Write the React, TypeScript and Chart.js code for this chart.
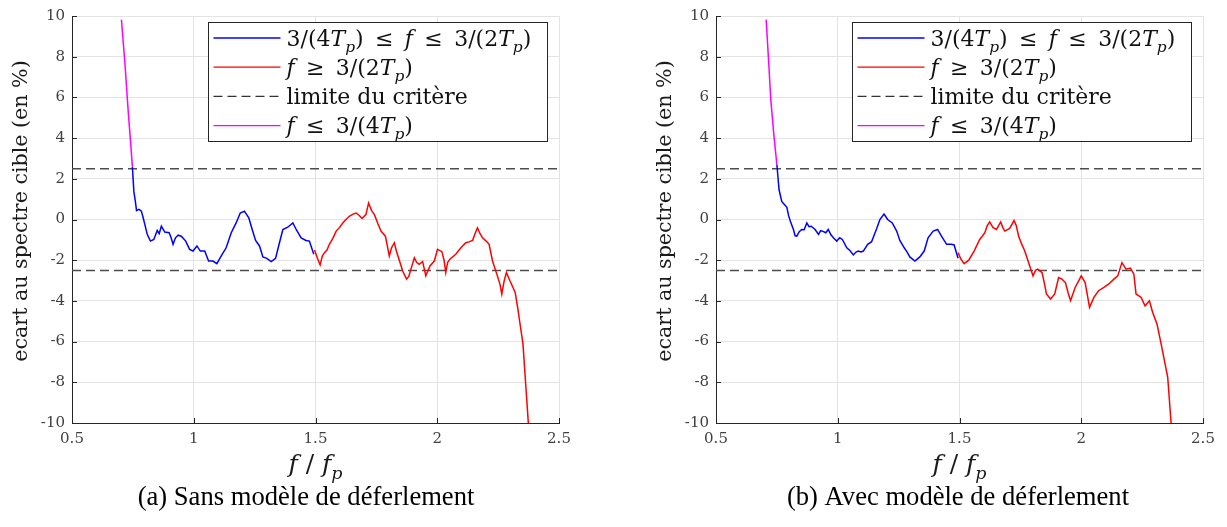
import React, { useEffect, useRef } from 'react';
import { Chart, registerables } from 'chart.js';
Chart.register(...registerables);

// ---------- data (f/fp, ecart %) ----------
const sansMagentaF = [0.703, 0.717, 0.731, 0.740, 0.748];
const sansMagentaE = [9.82, 7.73, 5.29, 3.9, 2.6];
const sansBlueF = [0.748, 0.754, 0.760, 0.765, 0.775, 0.785, 0.792, 0.799, 0.809, 0.822, 0.836, 0.850, 0.858, 0.867, 0.881, 0.899, 0.907, 0.915, 0.925, 0.936, 0.949, 0.967, 0.983, 0.997, 1.013, 1.027, 1.045, 1.061, 1.079, 1.095, 1.113, 1.133, 1.154, 1.174, 1.191, 1.208, 1.226, 1.240, 1.254, 1.270, 1.284, 1.300, 1.318, 1.336, 1.352, 1.366, 1.386, 1.407, 1.423, 1.441, 1.461, 1.475, 1.493];
const sansBlueE = [2.6, 1.38, 0.9, 0.44, 0.5, 0.41, 0.1, -0.24, -0.73, -1.06, -0.98, -0.54, -0.7, -0.33, -0.62, -0.65, -0.9, -1.22, -0.9, -0.77, -0.82, -1.06, -1.47, -1.55, -1.30, -1.55, -1.55, -2.04, -2.04, -2.17, -1.79, -1.39, -0.65, -0.17, 0.32, 0.41, 0.08, -0.49, -1.03, -1.30, -1.84, -1.91, -2.07, -1.91, -1.14, -0.49, -0.38, -0.17, -0.54, -0.90, -1.03, -1.06, -1.71];
const sansRedF = [1.496, 1.508, 1.519, 1.528, 1.537, 1.547, 1.557, 1.570, 1.585, 1.598, 1.612, 1.625, 1.639, 1.652, 1.667, 1.680, 1.691, 1.707, 1.718, 1.730, 1.742, 1.756, 1.769, 1.787, 1.795, 1.803, 1.812, 1.824, 1.832, 1.841, 1.858, 1.874, 1.883, 1.892, 1.906, 1.915, 1.926, 1.940, 1.953, 1.970, 1.988, 2.001, 2.019, 2.028, 2.035, 2.043, 2.052, 2.076, 2.097, 2.117, 2.130, 2.145, 2.155, 2.165, 2.176, 2.186, 2.200, 2.213, 2.227, 2.247, 2.258, 2.265, 2.275, 2.284, 2.298, 2.311, 2.320, 2.330, 2.339, 2.352, 2.363, 2.374, 2.377];
const sansRedE = [-1.5, -1.9, -2.23, -1.8, -1.63, -1.5, -1.22, -0.95, -0.57, -0.4, -0.17, 0.0, 0.16, 0.25, 0.32, 0.2, 0.05, 0.24, 0.81, 0.45, 0.24, -0.2, -0.57, -0.82, -1.3, -1.79, -1.4, -1.14, -1.55, -1.88, -2.53, -2.93, -2.8, -2.44, -1.88, -2.1, -2.20, -2.07, -2.77, -2.28, -2.04, -1.47, -1.58, -2.0, -2.61, -2.1, -1.95, -1.71, -1.39, -1.14, -1.1, -1.03, -0.7, -0.41, -0.7, -0.90, -1.05, -1.22, -2.04, -2.77, -3.2, -3.66, -3.0, -2.61, -3.0, -3.34, -3.58, -4.3, -5.05, -6.11, -8.06, -9.98, -10.5];

const avecMagentaF = [0.706, 0.716, 0.725, 0.738, 0.750];
const avecMagentaE = [9.82, 7.8, 5.9, 4.1, 2.7];
const avecBlueF = [0.750, 0.755, 0.759, 0.770, 0.780, 0.791, 0.798, 0.805, 0.818, 0.825, 0.832, 0.842, 0.852, 0.862, 0.873, 0.882, 0.891, 0.907, 0.921, 0.930, 0.937, 0.951, 0.961, 0.972, 0.982, 0.996, 1.008, 1.019, 1.037, 1.050, 1.064, 1.075, 1.084, 1.095, 1.105, 1.123, 1.139, 1.160, 1.173, 1.190, 1.205, 1.224, 1.242, 1.255, 1.273, 1.285, 1.296, 1.317, 1.337, 1.355, 1.371, 1.392, 1.410, 1.426, 1.447, 1.467, 1.478, 1.494];
const avecBlueE = [2.7, 2.0, 1.46, 0.89, 0.75, 0.60, 0.2, -0.08, -0.49, -0.8, -0.82, -0.6, -0.49, -0.5, -0.17, -0.35, -0.33, -0.49, -0.73, -0.55, -0.57, -0.65, -0.49, -0.75, -0.90, -1.06, -0.9, -0.98, -1.39, -1.52, -1.74, -1.6, -1.55, -1.6, -1.55, -1.22, -1.09, -0.44, 0.0, 0.27, 0.0, -0.17, -0.57, -1.03, -1.39, -1.6, -1.84, -2.04, -1.84, -1.55, -0.90, -0.57, -0.49, -0.82, -1.22, -1.22, -1.25, -1.90];
const avecRedF = [1.494, 1.506, 1.519, 1.538, 1.560, 1.583, 1.595, 1.604, 1.614, 1.624, 1.638, 1.652, 1.669, 1.678, 1.686, 1.706, 1.724, 1.733, 1.743, 1.755, 1.768, 1.784, 1.802, 1.812, 1.822, 1.839, 1.848, 1.857, 1.874, 1.891, 1.907, 1.921, 1.935, 1.946, 1.956, 1.975, 1.990, 2.000, 2.016, 2.025, 2.034, 2.052, 2.071, 2.093, 2.112, 2.134, 2.150, 2.167, 2.184, 2.202, 2.216, 2.225, 2.246, 2.262, 2.280, 2.293, 2.311, 2.328, 2.355, 2.369, 2.372];
const avecRedE = [-1.63, -1.95, -2.17, -2.00, -1.55, -0.98, -0.8, -0.65, -0.3, -0.12, -0.4, -0.49, -0.12, -0.4, -0.57, -0.44, -0.05, -0.3, -0.82, -1.2, -1.55, -2.12, -2.77, -2.5, -2.44, -2.61, -3.1, -3.66, -3.91, -3.66, -2.85, -2.93, -3.10, -3.6, -3.99, -3.34, -3.0, -2.77, -3.10, -3.7, -4.32, -3.83, -3.50, -3.34, -3.18, -2.93, -2.77, -2.12, -2.44, -2.39, -2.69, -3.66, -3.83, -4.24, -3.99, -4.56, -5.13, -6.11, -7.74, -10.0, -10.5];

const critereLimite = 2.5;
const xTicks = [0.5, 1, 1.5, 2, 2.5];
const yTicks = [-10, -8, -6, -4, -2, 0, 2, 4, 6, 8, 10];
const yTitle = 'ecart au spectre cible (en %)';
const captionSans = '(a) Sans modèle de déferlement';
const captionAvec = '(b) Avec modèle de déferlement';

type Seg = { t: string; it?: boolean; sub?: boolean };
const REL_LE = '\u2009 ≤ \u2009';
const REL_GE = '\u2009 ≥ \u2009';
const legendRows: { color: string; dash: number[]; segs: Seg[] }[] = [
  { color: '#0000ff', dash: [], segs: [{ t: '3/(4' }, { t: 'T', it: true }, { t: 'p', it: true, sub: true }, { t: ')' + REL_LE }, { t: 'f', it: true }, { t: REL_LE + '3/(2' }, { t: 'T', it: true }, { t: 'p', it: true, sub: true }, { t: ')' }] },
  { color: '#ff0000', dash: [], segs: [{ t: 'f', it: true }, { t: REL_GE + '3/(2' }, { t: 'T', it: true }, { t: 'p', it: true, sub: true }, { t: ')' }] },
  { color: '#333333', dash: [9, 5], segs: [{ t: 'limite du critère' }] },
  { color: '#ff00ff', dash: [], segs: [{ t: 'f', it: true }, { t: REL_LE + '3/(4' }, { t: 'T', it: true }, { t: 'p', it: true, sub: true }, { t: ')' }] },
];

const SERIF = '"DejaVu Serif"';

function segFont(s: Seg, size: number) {
  const sz = s.sub ? size * 0.7 : size;
  return `${s.it ? 'italic ' : ''}${sz}px ${SERIF}`;
}
function measureSegs(ctx: CanvasRenderingContext2D, segs: Seg[], size: number) {
  let w = 0;
  for (const s of segs) { ctx.font = segFont(s, size); w += ctx.measureText(s.t).width; }
  return w;
}
function drawSegs(ctx: CanvasRenderingContext2D, segs: Seg[], x: number, baseline: number, size: number) {
  let cx = x;
  ctx.textAlign = 'left';
  ctx.textBaseline = 'alphabetic';
  for (const s of segs) {
    ctx.font = segFont(s, size);
    ctx.fillText(s.t, cx, baseline + (s.sub ? size * 0.28 : 0));
    cx += ctx.measureText(s.t).width;
  }
}

function makeOverlay(caption: string, captionX: number) {
  return {
    id: 'overlay',
    afterDraw(chart: any) {
      const { ctx, chartArea: a, scales } = chart;
      const xs = scales.x, ys = scales.y;
      ctx.save();
      // inward ticks
      ctx.strokeStyle = '#262626';
      ctx.lineWidth = 1;
      ctx.setLineDash([]);
      ctx.beginPath();
      for (const v of xTicks) {
        const px = Math.round(xs.getPixelForValue(v)) + 0.5;
        ctx.moveTo(px, a.bottom); ctx.lineTo(px, a.bottom - 5);
      }
      for (const v of yTicks) {
        const py = Math.round(ys.getPixelForValue(v)) + 0.5;
        ctx.moveTo(a.left, py); ctx.lineTo(a.left + 5, py);
      }
      ctx.stroke();

      // legend
      const lw = 339, lh = 119;
      const lx = Math.round(a.right - 12 - lw) + 0.5;
      const ly = Math.round(a.top + 6) + 0.5;
      ctx.fillStyle = '#ffffff';
      ctx.fillRect(lx, ly, lw, lh);
      ctx.strokeStyle = '#262626';
      ctx.lineWidth = 1;
      ctx.strokeRect(lx, ly, lw, lh);
      legendRows.forEach((r, i) => {
        const cy = ly + 15.5 + i * 29.2;
        ctx.strokeStyle = r.color;
        ctx.lineWidth = 1.3;
        ctx.setLineDash(r.dash);
        ctx.beginPath();
        ctx.moveTo(lx + 5, cy); ctx.lineTo(lx + 72, cy);
        ctx.stroke();
        ctx.setLineDash([]);
        ctx.fillStyle = '#111111';
        drawSegs(ctx, r.segs, lx + 78, cy + 7.5, 22);
      });

      // y title
      ctx.save();
      ctx.translate(22, 211);
      ctx.rotate(-Math.PI / 2);
      ctx.font = `20.6px ${SERIF}`;
      ctx.fillStyle = '#1a1a1a';
      ctx.textAlign = 'center';
      ctx.textBaseline = 'middle';
      ctx.fillText(yTitle, 0, 0);
      ctx.restore();

      // x title f / f_p
      const xt: Seg[] = [{ t: 'f', it: true }, { t: ' / ' }, { t: 'f', it: true }, { t: 'p', it: true, sub: true }];
      const tw = measureSegs(ctx, xt, 25);
      ctx.fillStyle = '#1a1a1a';
      drawSegs(ctx, xt, (a.left + a.right) / 2 - tw / 2, 472, 25);

      // caption
      ctx.font = '26.6px "Liberation Serif"';
      ctx.fillStyle = '#000000';
      ctx.textAlign = 'center';
      ctx.textBaseline = 'middle';
      ctx.fillText(caption, captionX, 498);
      ctx.restore();
    },
  };
}

function pts(f: number[], e: number[]) {
  return f.map((v, i) => ({ x: v, y: e[i] }));
}

function Panel(props: { width: number; left: number; caption: string; captionX: number; mag: [number[], number[]]; blue: [number[], number[]]; red: [number[], number[]] }) {
  const ref = useRef<HTMLCanvasElement | null>(null);
  useEffect(() => {
    if (!ref.current) return;
    const line = (data: any[], color: string, extra: any = {}) => ({
      data, borderColor: color, backgroundColor: color, borderWidth: 1.5, pointRadius: 0, tension: 0, fill: false, ...extra,
    });
    const chart = new Chart(ref.current, {
      type: 'line',
      data: {
        datasets: [
          line(pts(props.mag[0], props.mag[1]), '#ff00ff'),
          line(pts(props.blue[0], props.blue[1]), '#0000ff'),
          line(pts(props.red[0], props.red[1]), '#ff0000'),
          line([{ x: 0.5, y: critereLimite }, { x: 2.5, y: critereLimite }], '#4d4d4d', { borderDash: [9, 5] }),
          line([{ x: 0.5, y: -critereLimite }, { x: 2.5, y: -critereLimite }], '#4d4d4d', { borderDash: [9, 5] }),
        ],
      },
      options: {
        animation: false,
        responsive: false,
        layout: { padding: { left: 0, top: 14, right: props.width - 559, bottom: 0 } },
        plugins: { legend: { display: false }, tooltip: { enabled: false } },
        scales: {
          x: {
            type: 'linear', min: 0.5, max: 2.5,
            afterFit: (s: any) => { s.height = 104; },
            afterBuildTicks: (s: any) => { s.ticks = xTicks.map((v) => ({ value: v })); },
            grid: { color: '#e3e3e3', drawTicks: false },
            border: { display: true, color: '#262626', width: 1 },
            ticks: { padding: 7, color: '#404040', font: { family: 'DejaVu Serif', size: 15 }, maxRotation: 0, autoSkip: false, callback: (v: any) => String(v) },
          },
          y: {
            type: 'linear', min: -10, max: 10,
            afterFit: (s: any) => { s.width = 72; },
            afterBuildTicks: (s: any) => { s.ticks = yTicks.map((v) => ({ value: v })); },
            grid: { color: '#e3e3e3', drawTicks: false },
            border: { display: true, color: '#262626', width: 1 },
            ticks: { padding: 7, color: '#404040', font: { family: 'DejaVu Serif', size: 15 }, autoSkip: false, callback: (v: any) => String(v) },
          },
        },
      } as any,
      plugins: [makeOverlay(props.caption, props.captionX)],
    });
    return () => chart.destroy();
  }, []);
  return (
    <canvas ref={ref} width={props.width} height={527} style={{ position: 'absolute', left: props.left, top: 0, width: props.width, height: 527 }} />
  );
}

export default function App() {
  useEffect(() => {
    document.body.style.margin = '0';
    document.body.style.overflow = 'hidden';
  }, []);
  return (
    <div style={{ position: 'relative', width: 1227, height: 527, background: '#ffffff', overflow: 'hidden' }}>
      <Panel width={600} left={0} caption={captionSans} captionX={306} mag={[sansMagentaF, sansMagentaE]} blue={[sansBlueF, sansBlueE]} red={[sansRedF, sansRedE]} />
      <Panel width={583} left={644} caption={captionAvec} captionX={314} mag={[avecMagentaF, avecMagentaE]} blue={[avecBlueF, avecBlueE]} red={[avecRedF, avecRedE]} />
    </div>
  );
}
